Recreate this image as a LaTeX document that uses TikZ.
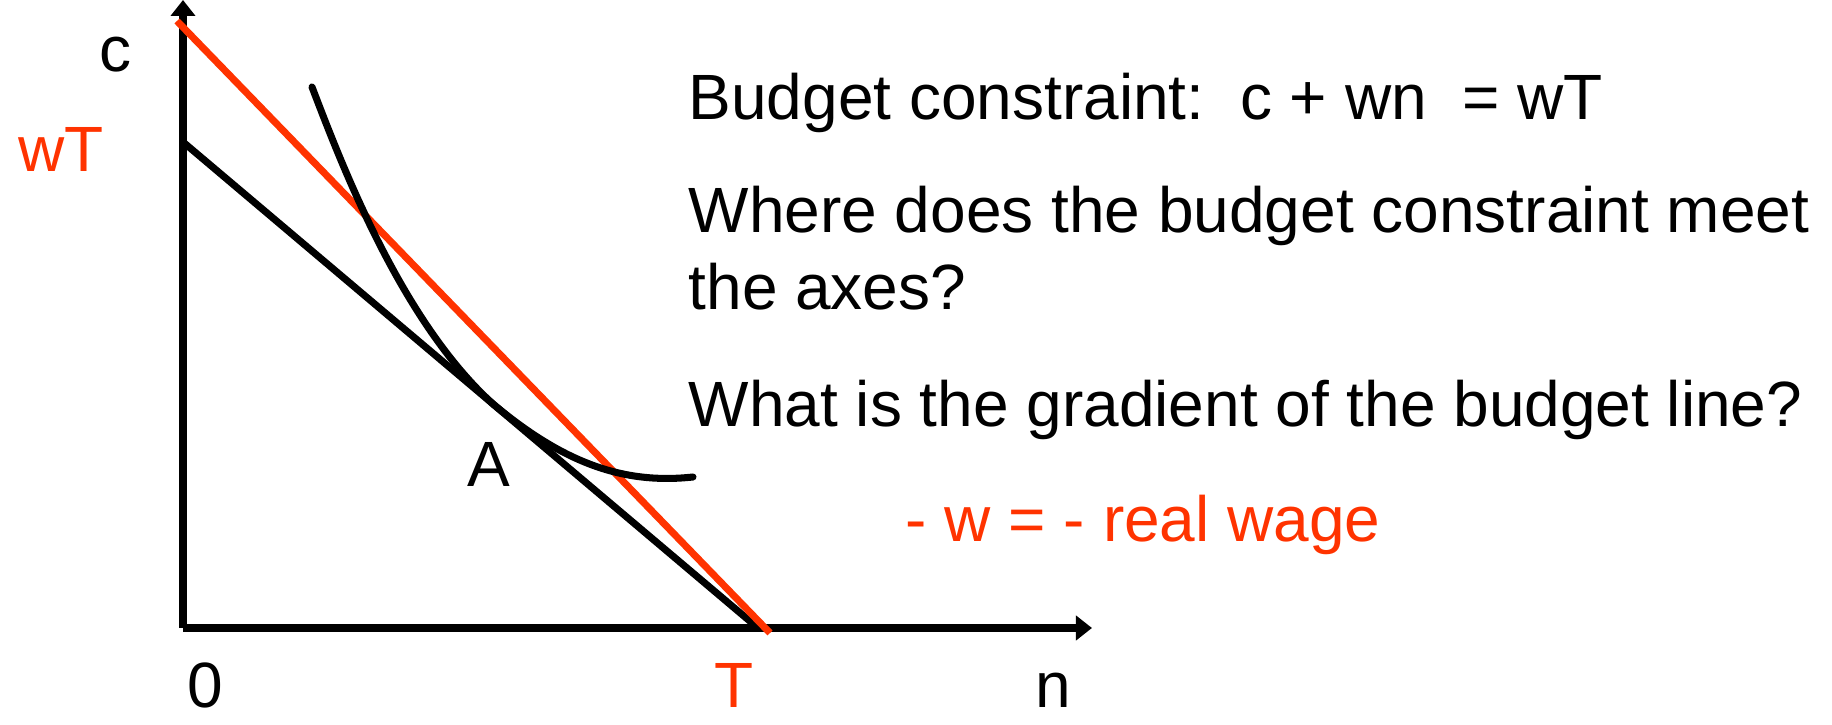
\documentclass[tikz,border=0pt]{standalone}
\usepackage{fontspec}
\setmainfont{Liberation Sans}
\usepackage{tikz}
\usetikzlibrary{arrows.meta}
\definecolor{wagered}{RGB}{255,51,0}

\begin{document}
\begin{tikzpicture}[
    x=0.01cm, y=-0.01cm,
    font=\fontsize{18.2pt}{22pt}\selectfont,
    axis/.style={line width=2pt, -{Triangle[length=0.16cm, width=0.24cm]}},
    budget/.style={line width=2pt},
    indiff/.style={line width=2pt, line cap=round},
    lbl/.style={anchor=base, inner sep=0pt},
    txt/.style={anchor=base west, inner sep=0pt},
]
\useasboundingbox (0,0) rectangle (1832,725);

% --- axes ---
\coordinate (origin) at (183,628);
\coordinate (ytop) at (183,0);
\coordinate (xend) at (1092,628);
\draw[axis] (origin) -- (ytop);
\draw[axis] (origin) -- (xend);

% --- budget lines ---
\coordinate (bcTop) at (183,142);
\coordinate (bcEnd) at (758,628);
\coordinate (wTop) at (177,21);
\coordinate (wEnd) at (770,633);
\draw[budget] (bcTop) -- (bcEnd);
\draw[budget, wagered] (wTop) -- (wEnd);

% indifference curve, touching the black line at A
\coordinate (icTop) at (312,87);
\coordinate (icTan) at (493,404);
\coordinate (icEnd) at (693,477);
\draw[indiff] (icTop) .. controls (340,160) and (400,320) .. (icTan)
    .. controls (560,460) and (620,485) .. (icEnd);

% axis labels
\node[lbl] (cLbl) at (115,72) {c};
\node[lbl, text=wagered] (wTLbl) at (61,172) {wT};
\node[lbl] (zeroLbl) at (205,708) {0};
\node[lbl, text=wagered] (TLbl) at (734,708) {T};
\node[lbl] (nLbl) at (1053,708) {n};
\node[lbl] (ALbl) at (489,487) {A};

% --- text on the right ---
\node[txt] (bc) at (688,120) {Budget constraint:\ \ c + wn\ \ = wT};
\node[txt] (q1a) at (688,233) {Where does the budget constraint meet};
\node[txt] (q1b) at (688,310) {the axes?};
\node[txt] (q2) at (688,427) {What is the gradient of the budget line?};
\node[txt, text=wagered] (ans) at (905,542) {- w = - real wage};

\end{tikzpicture}
\end{document}
